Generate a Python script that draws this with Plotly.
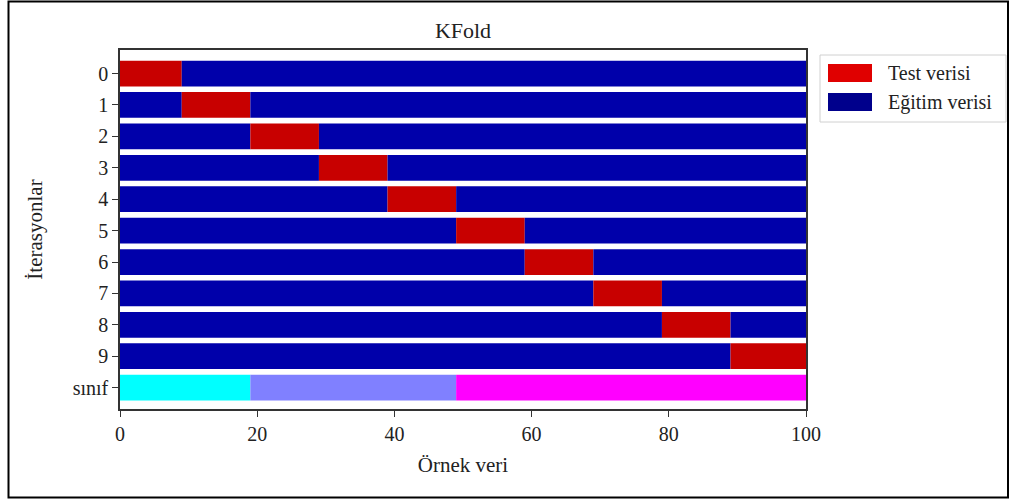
import plotly.graph_objects as go

# ---- data ----
iterations = [0, 1, 2, 3, 4, 5, 6, 7, 8, 9]
test_start = [0, 9, 19, 29, 39, 49, 59, 69, 79, 89]
test_end = [9, 19, 29, 39, 49, 59, 69, 79, 89, 100]
n_samples = 100
class_bounds = [0, 19, 49, 100]
class_colors = ["#00FFFF", "#8080FF", "#FF00FF"]
y_ticklabels = ["0", "1", "2", "3", "4", "5", "6", "7", "8", "9", "sınıf"]
x_ticks = [0, 20, 40, 60, 80, 100]

RED = "#C80000"
BLUE = "#0000AA"
FONT = "Liberation Serif"
BAR_W = 0.82

fig = go.Figure()

# training segments before test
fig.add_trace(go.Bar(orientation="h", y=iterations, base=[0] * len(iterations),
                     x=[s - 0 for s in test_start], width=BAR_W,
                     marker=dict(color=BLUE, line=dict(width=0)), showlegend=False,
                     hoverinfo="skip"))
# test segments
fig.add_trace(go.Bar(orientation="h", y=iterations, base=test_start,
                     x=[e - s for s, e in zip(test_start, test_end)], width=BAR_W,
                     marker=dict(color=RED, line=dict(width=0)), showlegend=False,
                     hoverinfo="skip"))
# training segments after test
fig.add_trace(go.Bar(orientation="h", y=iterations, base=test_end,
                     x=[n_samples - e for e in test_end], width=BAR_W,
                     marker=dict(color=BLUE, line=dict(width=0)), showlegend=False,
                     hoverinfo="skip"))
# class row
cls_row = len(iterations)
for i, c in enumerate(class_colors):
    fig.add_trace(go.Bar(orientation="h", y=[cls_row], base=[class_bounds[i]],
                         x=[class_bounds[i + 1] - class_bounds[i]], width=BAR_W,
                         marker=dict(color=c, line=dict(width=0)), showlegend=False,
                         hoverinfo="skip"))

# ---- layout geometry (pixels) ----
W, H = 1016, 499
L, R, T, B = 120, 806, 50, 409
pw, ph = R - L, B - T


def px(x):
    return (x - L) / pw


def py(y):
    return (B - y) / ph


shapes = []
# outer frame
shapes.append(dict(type="rect", xref="paper", yref="paper",
                   x0=px(8.5), x1=px(1008), y0=py(497.5), y1=py(1.5),
                   line=dict(color="black", width=2), fillcolor="rgba(0,0,0,0)"))
# legend box
shapes.append(dict(type="rect", xref="paper", yref="paper",
                   x0=px(820), x1=px(1006), y0=py(122), y1=py(55),
                   line=dict(color="#D0D0D0", width=1), fillcolor="white"))
legend_items = [("Test verisi", "#E00000", 73), ("Eğitim verisi", "#00008C", 102)]
annotations = []
for label, col, yc in legend_items:
    shapes.append(dict(type="rect", xref="paper", yref="paper",
                       x0=px(828), x1=px(872), y0=py(yc + 9), y1=py(yc - 9),
                       line=dict(width=0), fillcolor=col))
    annotations.append(dict(text=label, xref="paper", yref="paper",
                            x=px(886), y=py(yc), xanchor="left", yanchor="middle",
                            showarrow=False, font=dict(family=FONT, size=20, color="#222")))

fig.update_layout(
    width=W, height=H,
    margin=dict(l=L, r=W - R, t=T, b=H - B),
    paper_bgcolor="white", plot_bgcolor="white",
    barmode="overlay",
    font=dict(family=FONT, size=20, color="#222"),
    title=dict(text="KFold", x=(L + R) / 2 / W, xanchor="center",
               y=1 - 30 / H, yanchor="middle", yref="container",
               font=dict(family=FONT, size=22, color="#222")),
    xaxis=dict(range=[0, n_samples], tickvals=x_ticks, ticktext=[str(t) for t in x_ticks],
               showgrid=False, zeroline=False, showline=True, mirror=True,
               linecolor="#333", linewidth=1.5, ticks="outside", ticklen=6,
               tickcolor="#333", tickfont=dict(family=FONT, size=20, color="#222"),
               title=dict(text="Örnek veri", font=dict(family=FONT, size=21, color="#222"),
                          standoff=14)),
    yaxis=dict(range=[10.68, -0.75], tickvals=list(range(len(y_ticklabels))),
               ticktext=y_ticklabels, showgrid=False, zeroline=False,
               showline=True, mirror=True, linecolor="#333", linewidth=1.5,
               ticks="outside", ticklen=6, tickcolor="#333",
               tickfont=dict(family=FONT, size=20, color="#222"),
               title=dict(text="İterasyonlar", font=dict(family=FONT, size=21, color="#222"),
                          standoff=24)),
    shapes=shapes, annotations=annotations,
)

fig.write_html("out.html")
